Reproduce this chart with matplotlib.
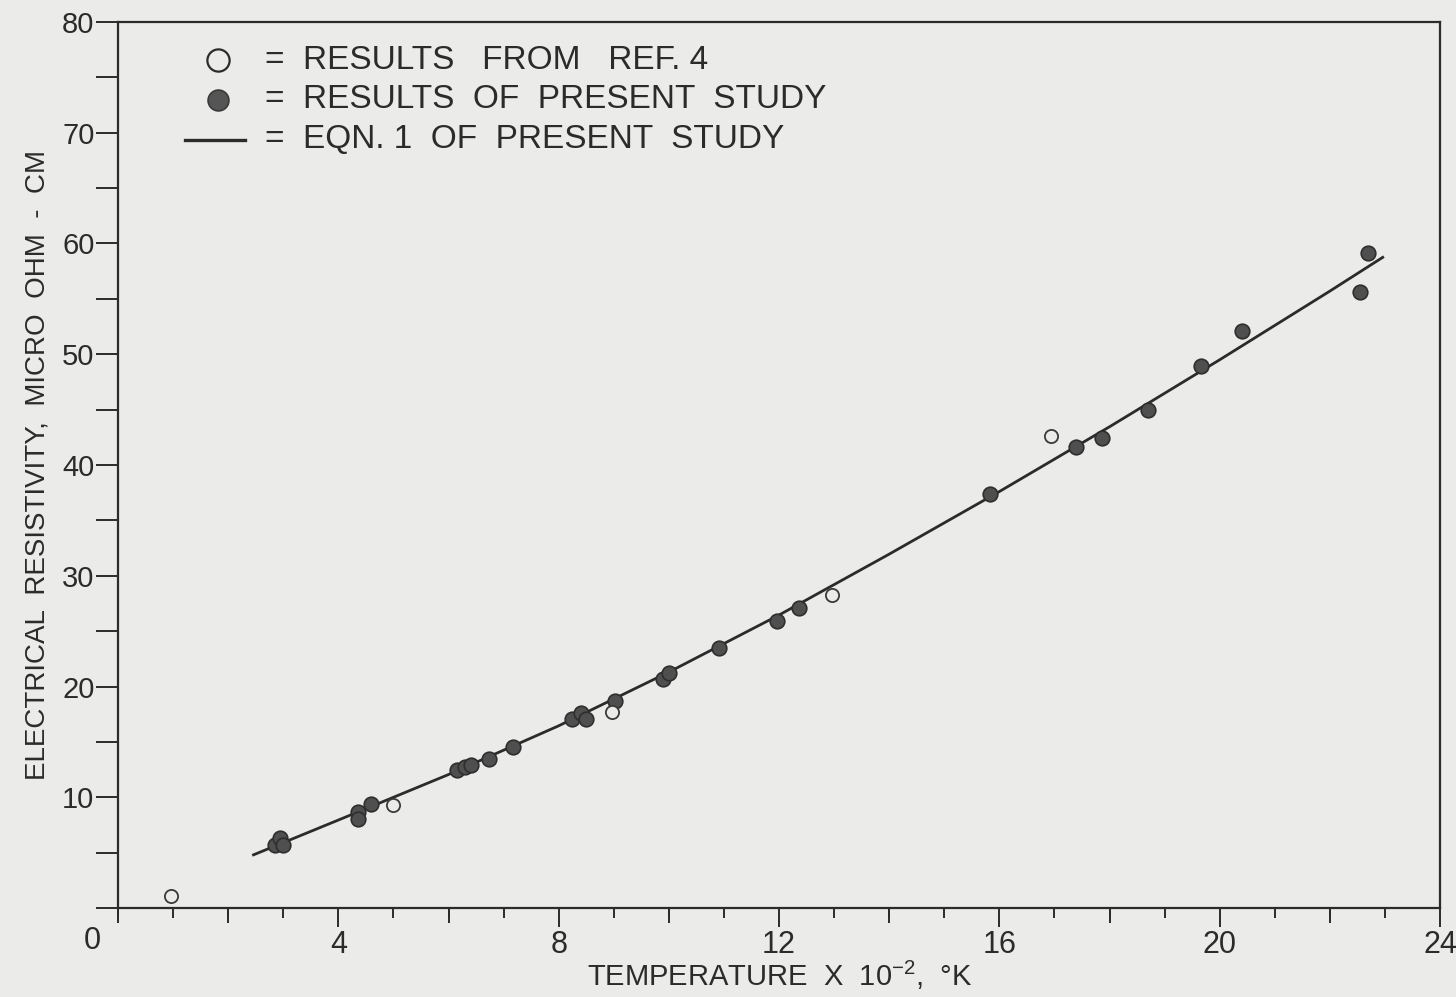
import matplotlib
matplotlib.use("Agg")
import matplotlib.pyplot as plt
from matplotlib.ticker import MultipleLocator

plt.rcParams['font.family'] = ['Liberation Sans', 'DejaVu Sans']
plt.rcParams['mathtext.default'] = 'regular'

# temperature x 10^-2 (K), resistivity (micro ohm-cm)
ref4_T = [0.96, 4.99, 8.96, 12.97, 16.93]
ref4_rho = [1.1, 9.3, 17.7, 28.3, 42.6]

present_T = [2.85, 2.95, 3.0, 4.35, 4.35, 4.6, 6.15, 6.3, 6.4, 6.73, 7.17,
             8.25, 8.4, 8.5, 9.02, 9.9, 10.0, 10.91, 11.96, 12.36,
             15.83, 17.39, 17.86, 18.7, 19.67, 20.41, 22.55, 22.69]
present_rho = [5.7, 6.35, 5.65, 8.7, 8.0, 9.36, 12.45, 12.75, 12.95, 13.42, 14.56,
               17.1, 17.6, 17.1, 18.72, 20.7, 21.2, 23.44, 25.92, 27.06,
               37.35, 41.65, 42.4, 45.0, 48.94, 52.13, 55.65, 59.11]

# eqn. 1 curve
eqn_T = [2.46, 4, 6, 8, 10, 12, 14, 16, 18, 20, 22, 22.96]
eqn_rho = [4.8, 7.94, 12.05, 16.45, 21.3, 26.45, 31.95, 37.6, 43.45, 49.5, 55.7, 58.75]

ink = '#2b2b2b'
paper = '#ebebe9'

fig = plt.figure(figsize=(14.56, 9.97), dpi=100, facecolor=paper)
ax = fig.add_axes([118/1456, 89/997, 1322/1456, 886/997])
ax.set_facecolor(paper)

ax.plot(eqn_T, eqn_rho, color=ink, lw=2)
ax.plot(present_T, present_rho, 'o', ms=10.5, mfc='#4f4f4f', mec='#2e2e2e', mew=1.2)
ax.plot(ref4_T, ref4_rho, 'o', ms=9.5, mfc=paper, mec='#3a3a3a', mew=1.3)

ax.set_xlim(0, 24)
ax.set_ylim(0, 80)
ax.xaxis.set_minor_locator(MultipleLocator(1))
ax.yaxis.set_minor_locator(MultipleLocator(5))

ax.set_xticks([4, 8, 12, 16, 20, 24])
ax.set_xticklabels(['4', '8', '12', '16', '20', '24'])
ax.set_yticks([0, 10, 20, 30, 40, 50, 60, 70, 80])
ax.set_yticklabels(['', '10', '20', '30', '40', '50', '60', '70', '80'])

# long ticks every 2 on x, short every 1
for t in [0, 2, 6, 10, 14, 18, 22]:
    ax.plot([t, t], [0, -1.3], color=ink, lw=1.4, clip_on=False)

ax.tick_params(axis='x', which='major', direction='out', length=14, width=1.4,
               color=ink, labelcolor=ink, labelsize=22, pad=2)
ax.tick_params(axis='x', which='minor', direction='out', length=7, width=1.4, color=ink)
ax.tick_params(axis='y', which='both', direction='out', length=16, width=1.4,
               color=ink, labelcolor=ink, labelsize=21, pad=1)

for s in ax.spines.values():
    s.set_color(ink)
    s.set_linewidth(1.6)

ax.text(-0.47, -1.6, '0', ha='center', va='top', fontsize=22, color=ink)

fig.text(780/1456, 1 - 975/997, 'TEMPERATURE  X  $10^{-2}$,  °K', fontsize=21,
         color=ink, ha='center', va='center')
ax.set_ylabel('ELECTRICAL  RESISTIVITY,  MICRO  OHM  -  CM', fontsize=20, color=ink, labelpad=8)

# legend drawn by hand
ax.plot([0.0756], [0.957], 'o', ms=16, mfc=paper, mec=ink, mew=1.6, transform=ax.transAxes)
ax.plot([0.0756], [0.912], 'o', ms=15, mfc='#555555', mec='#3a3a3a', mew=1.2, transform=ax.transAxes)
ax.plot([0.0507, 0.096], [0.867, 0.867], color=ink, lw=2.4, transform=ax.transAxes)
leg_txt = ['=  RESULTS   FROM   REF. 4',
           '=  RESULTS  OF  PRESENT  STUDY',
           '=  EQN. 1  OF  PRESENT  STUDY']
for yy, s in zip([0.957, 0.912, 0.867], leg_txt):
    ax.text(0.111, yy, s, transform=ax.transAxes, ha='left', va='center',
            fontsize=24, color=ink)

fig.savefig('out.png', dpi=100, facecolor=paper)
